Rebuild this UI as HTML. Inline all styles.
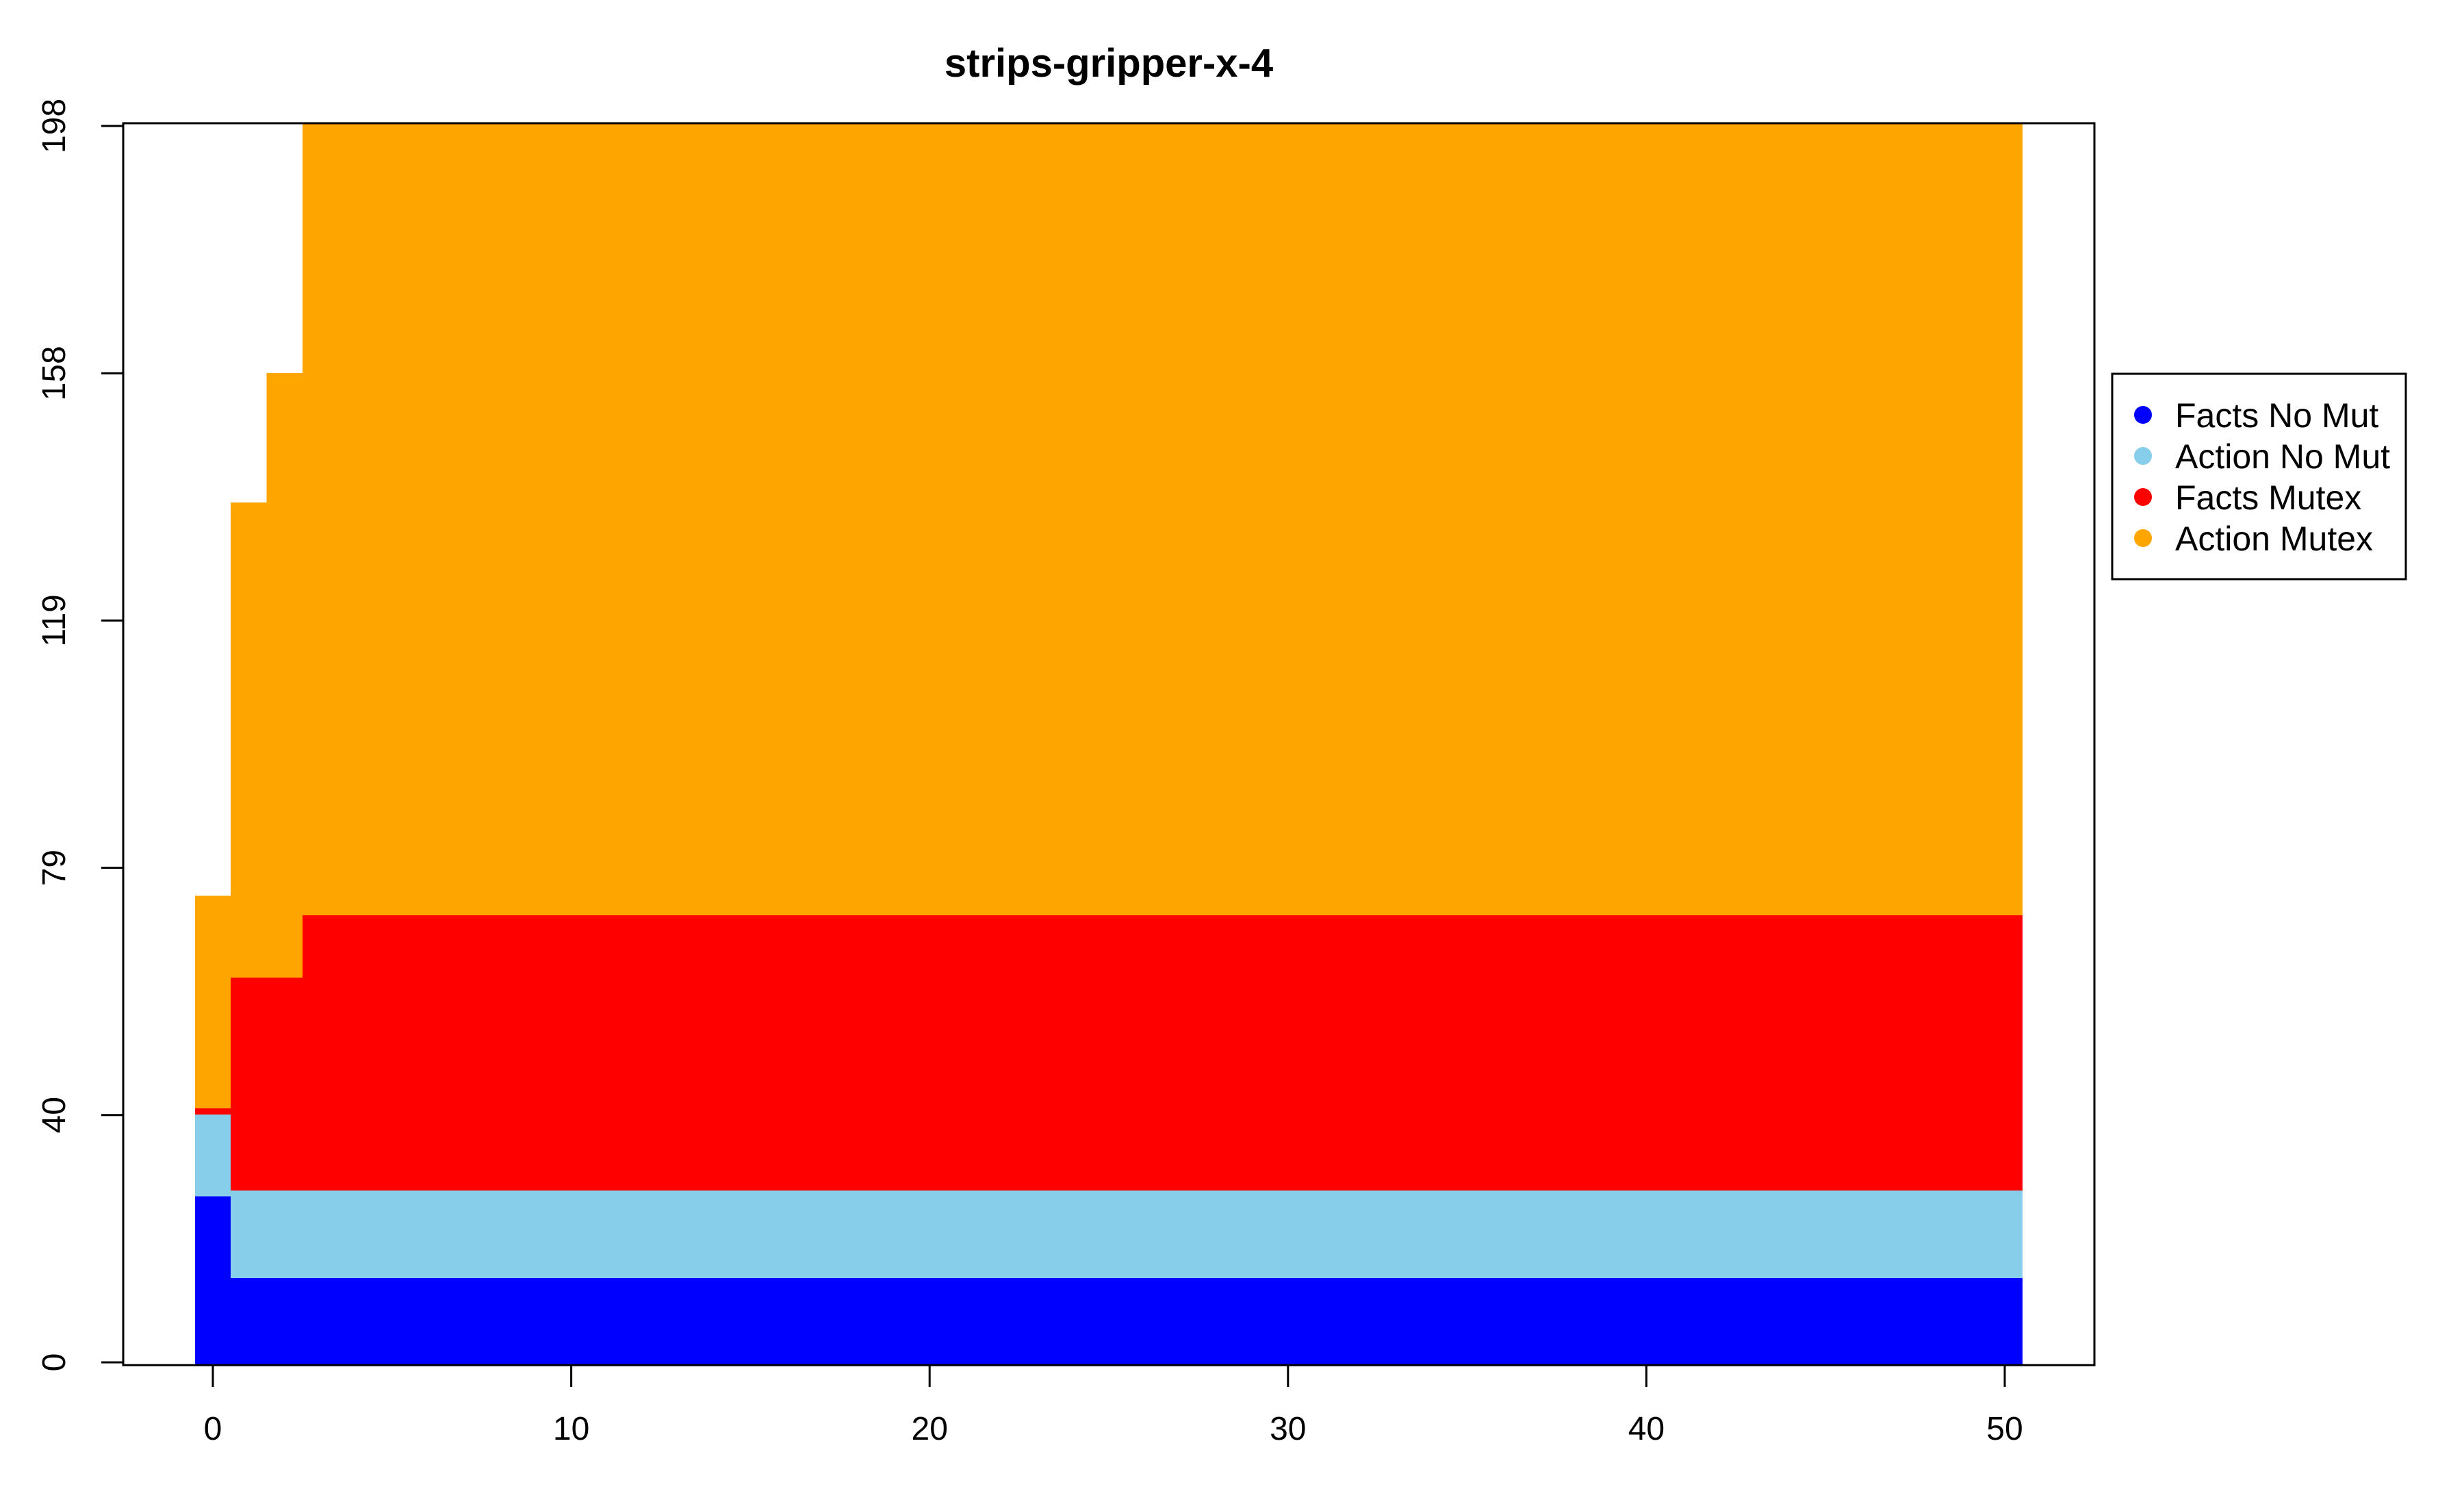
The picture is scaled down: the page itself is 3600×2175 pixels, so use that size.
<!DOCTYPE html>
<html><head><meta charset="utf-8"><style>
html,body{margin:0;padding:0;background:#fff;}
svg{display:block;font-family:"Liberation Sans",sans-serif;}
#bars rect{shape-rendering:crispEdges;}
</style></head><body>
<svg id="chart" width="3600" height="2175" viewBox="0 0 3600 2175">
<text x="1620" y="112" text-anchor="middle" font-size="58" font-weight="bold">strips-gripper-x-4</text>
<g id="bars"></g>
<rect x="180" y="180" width="2880" height="1814" fill="none" stroke="#000" stroke-width="3"/>
<g id="axes"></g>
<g>
<rect x="3086" y="546" width="429" height="300" fill="#fff" stroke="#000" stroke-width="3"/>
<g id="legend"></g>
</g>
</svg>
<script>
const steps = [0, 1, 2, 3];
const stepEnd = [0.5, 1.5, 2.5, 50.5];
const factsNoMut = [26.6, 13.5, 13.5, 13.5];
const actionNoMut = [13.1, 14.0, 14.0, 14.0];
const factsMutex = [1.0, 34.1, 34.1, 44.1];
const actionMutex = [34.0, 76.1, 96.8, 126.8];
const seriesNames = ["Facts No Mut", "Action No Mut", "Facts Mutex", "Action Mutex"];
const seriesColors = ["#0000ff", "#87ceeb", "#ff0000", "#ffa500"];
const xTicks = [0, 10, 20, 30, 40, 50];
const yTicks = [0, 39.6, 79.2, 118.8, 158.4, 198];
const yTickLabels = ["0", "40", "79", "119", "158", "198"];

const X = v => 311 + (v - 0) * (2929 - 311) / 50;
const Y = v => 1990 - v * (1990 - 184) / 198;
const NS = "http://www.w3.org/2000/svg";
const bars = document.getElementById('bars');
const axes = document.getElementById('axes');
const legend = document.getElementById('legend');
const series = [factsNoMut, actionNoMut, factsMutex, actionMutex];
const slug = ["facts-no-mut", "action-no-mut", "facts-mutex", "action-mutex"];

steps.forEach((s, i) => {
  const x0 = i === 0 ? -0.5 : stepEnd[i - 1];
  const x1 = stepEnd[i];
  let base = 0;
  series.forEach((arr, k) => {
    const top = base + arr[i];
    const yTop = Math.max(180, Y(top));
    const yBot = base === 0 ? 1994 : Y(base);
    const r = document.createElementNS(NS, 'rect');
    r.setAttribute('x', X(x0));
    r.setAttribute('width', X(x1) - X(x0));
    r.setAttribute('y', yTop);
    r.setAttribute('height', yBot - yTop);
    r.setAttribute('fill', seriesColors[k]);
    
    
    bars.appendChild(r);
    base = top;
  });
});

xTicks.forEach(t => {
  const l = document.createElementNS(NS, 'line');
  l.setAttribute('x1', X(t)); l.setAttribute('x2', X(t));
  l.setAttribute('y1', 1994); l.setAttribute('y2', 2026);
  l.setAttribute('stroke', '#000'); l.setAttribute('stroke-width', 3);
  
  
  axes.appendChild(l);
  const tx = document.createElementNS(NS, 'text');
  tx.setAttribute('x', X(t)); tx.setAttribute('y', 2103);
  tx.setAttribute('text-anchor', 'middle'); tx.setAttribute('font-size', '48');
  tx.textContent = t;
  
  
  axes.appendChild(tx);
});
const xl = document.createElementNS(NS, 'line');
xl.setAttribute('x1', X(0)); xl.setAttribute('x2', X(50));
xl.setAttribute('y1', 1994); xl.setAttribute('y2', 1994);
xl.setAttribute('stroke', '#000'); xl.setAttribute('stroke-width', 3);


axes.appendChild(xl);

yTicks.forEach((t, i) => {
  const l = document.createElementNS(NS, 'line');
  l.setAttribute('x1', 148); l.setAttribute('x2', 180);
  l.setAttribute('y1', Y(t)); l.setAttribute('y2', Y(t));
  l.setAttribute('stroke', '#000'); l.setAttribute('stroke-width', 3);
  
  
  axes.appendChild(l);
  const tx = document.createElementNS(NS, 'text');
  tx.setAttribute('transform', 'translate(95,' + Y(t) + ') rotate(-90)');
  tx.setAttribute('text-anchor', 'middle'); tx.setAttribute('font-size', '48');
  tx.textContent = yTickLabels[i];
  
  
  axes.appendChild(tx);
});

seriesNames.forEach((n, k) => {
  const cy = 606 + k * 60;
  const c = document.createElementNS(NS, 'circle');
  c.setAttribute('cx', 3131); c.setAttribute('cy', cy); c.setAttribute('r', 13);
  c.setAttribute('fill', seriesColors[k]);
  
  
  legend.appendChild(c);
  const tx = document.createElementNS(NS, 'text');
  tx.setAttribute('x', 3178); tx.setAttribute('y', cy + 18);
  tx.setAttribute('font-size', '50');
  tx.textContent = n;
  
  
  legend.appendChild(tx);
});
</script>
</body></html>
